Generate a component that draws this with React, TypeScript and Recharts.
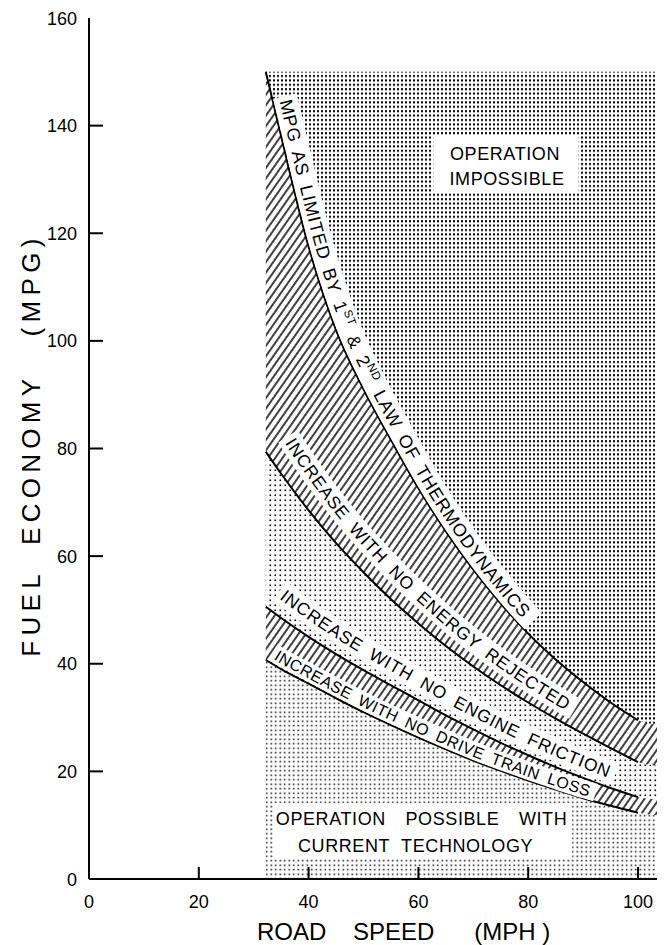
import React from 'react';
import { ComposedChart, Area, Line, XAxis, YAxis, ReferenceArea, Label } from 'recharts';

// ---------- data ----------
const speedMph = [32.2, 35, 40, 45, 50, 55, 60, 65, 70, 75, 80, 85, 90, 95, 100, 104];
const thermoLimitMpg = [150, 138, 117.5, 102, 91, 81.6, 72.6, 64.6, 57.5, 51.2, 45.6, 40.8, 36.6, 32.8, 29.5, 28.6];
const noEnergyRejectedMpg = [79.4, 75.3, 68.5, 62.4, 57, 52, 47.5, 43.3, 39.5, 36, 32.8, 29.8, 27, 24.3, 21.7, 21];
const noEngineFrictionMpg = [50.6, 48.5, 45, 41.8, 38.8, 36, 33.2, 30.4, 27.8, 25.3, 23, 20.8, 18.8, 16.9, 15.2, 14.8];
const noDriveTrainLossMpg = [40.7, 39, 36.3, 33.6, 31, 28.6, 26.3, 24.1, 22, 20.1, 18.3, 16.6, 15, 13.6, 12.3, 11.8];
const impossibleCeilingMpg = 150;
const lineEndSpeed = 100;

const xTicks = [0, 20, 40, 60, 80, 100];
const xInnerTicks = [20, 40, 60, 80, 100];
const yTicks = [0, 20, 40, 60, 80, 100, 120, 140, 160];
const yInnerTicks = [20, 40, 60, 80, 100, 120, 140];

const xAxisTitle = 'ROAD    SPEED      (MPH )';
const yAxisTitle = 'FUEL  ECONOMY   (MPG)';

const rows = speedMph.map((s, i) => ({
  speed: s,
  impossible: [thermoLimitMpg[i], impossibleCeilingMpg],
  band1: [noEnergyRejectedMpg[i], thermoLimitMpg[i]],
  band2: [noEngineFrictionMpg[i], noEnergyRejectedMpg[i]],
  band3: [noDriveTrainLossMpg[i], noEngineFrictionMpg[i]],
  possible: [0, noDriveTrainLossMpg[i]],
  tA: thermoLimitMpg[i],
  tB: noEnergyRejectedMpg[i],
  tC: noEngineFrictionMpg[i],
  tD: noDriveTrainLossMpg[i],
  lA: s <= lineEndSpeed ? thermoLimitMpg[i] : null,
  lB: s <= lineEndSpeed ? noEnergyRejectedMpg[i] : null,
  lC: s <= lineEndSpeed ? noEngineFrictionMpg[i] : null,
  lD: s <= lineEndSpeed ? noDriveTrainLossMpg[i] : null,
}));

const FONT = '"Liberation Sans", Arial, sans-serif';

// ---------- text along curves ----------
type Pt = { x: number; y: number };
type Seg = { t: string; sup?: boolean };
type CurveCfg = {
  id: string; segs: Seg[]; d0: number; d1: number; start: number;
  fs: number; ls: number; ws: number; strip: number;
};

let measureCtx: CanvasRenderingContext2D | null = null;
function measure(str: string, fs: number): number {
  if (!measureCtx) measureCtx = document.createElement('canvas').getContext('2d');
  if (!measureCtx) return str.length * fs * 0.65;
  measureCtx.font = `${fs}px "Liberation Sans"`;
  return measureCtx.measureText(str).width;
}
function textLen(cfg: CurveCfg): number {
  let L = 0;
  let n = 0;
  let spaces = 0;
  cfg.segs.forEach((s) => {
    L += measure(s.t, s.sup ? cfg.fs * 0.65 : cfg.fs);
    n += s.t.length;
    spaces += (s.t.match(/ /g) || []).length;
  });
  return L + n * cfg.ls + spaces * cfg.ws;
}

function offsetPts(pts: Pt[], d0: number, d1: number): Pt[] {
  const n = pts.length;
  return pts.map((p, i) => {
    const a = pts[Math.max(0, i - 1)];
    const b = pts[Math.min(n - 1, i + 1)];
    let tx = b.x - a.x;
    let ty = b.y - a.y;
    const len = Math.hypot(tx, ty) || 1;
    tx /= len; ty /= len;
    const d = d0 + (d1 - d0) * (i / (n - 1));
    return { x: p.x + ty * d, y: p.y - tx * d };
  });
}
function smooth(q: Pt[]): string {
  let s = `M${q[0].x},${q[0].y}`;
  for (let i = 0; i < q.length - 1; i++) {
    const p0 = q[Math.max(0, i - 1)];
    const p1 = q[i];
    const p2 = q[i + 1];
    const p3 = q[Math.min(q.length - 1, i + 2)];
    const c1 = { x: p1.x + (p2.x - p0.x) / 6, y: p1.y + (p2.y - p0.y) / 6 };
    const c2 = { x: p2.x - (p3.x - p1.x) / 6, y: p2.y - (p3.y - p1.y) / 6 };
    s += ` C${c1.x},${c1.y} ${c2.x},${c2.y} ${p2.x},${p2.y}`;
  }
  return s;
}

function CurveText({ cfg, pts }: { cfg: CurveCfg; pts: Pt[] }) {
  if (pts.length < 2) return null;
  const center = smooth(offsetPts(pts, cfg.d0, cfg.d1));
  const capHalf = cfg.fs * 0.36;
  const base = smooth(offsetPts(pts, cfg.d0 - capHalf, cfg.d1 - capHalf));
  const L = textLen(cfg);
  const baseId = `${cfg.id}-base`;
  const supDy = cfg.fs * 0.4;
  return (
    <g>
      <path d={base} id={baseId} fill="none" stroke="none" />
      <path
        d={center}
        fill="none"
        stroke="#fff"
        strokeWidth={cfg.strip}
        strokeDasharray={`0 ${Math.max(0, cfg.start - 4)} ${L + 8} 100000`}
      />
      <text fontFamily={FONT} fontSize={cfg.fs} letterSpacing={cfg.ls} wordSpacing={cfg.ws} fill="#000">
        <textPath href={`#${baseId}`} startOffset={cfg.start}>
          {cfg.segs.map((s, k) =>
            s.sup ? (
              <tspan key={k} dy={-supDy} fontSize={cfg.fs * 0.65}>{s.t}</tspan>
            ) : (
              <tspan key={k} dy={k > 0 && cfg.segs[k - 1].sup ? supDy : 0}>{s.t}</tspan>
            )
          )}
        </textPath>
      </text>
    </g>
  );
}

const stores: Record<string, Pt[]> = {};
function makeCurveText(cfg: CurveCfg) {
  return (props: any) => {
    const idx: number = props.index;
    let pts: Pt[] | null = null;
    if (Array.isArray(props.points) && props.points.length > 1) {
      if (idx !== 0) return <g key={`${cfg.id}-e${idx}`} />;
      pts = props.points
        .filter((p: any) => p && Number.isFinite(p.x) && Number.isFinite(p.y))
        .map((p: any) => ({ x: p.x, y: p.y }));
    } else {
      const st = stores[cfg.id] || (stores[cfg.id] = []);
      st[idx] = { x: props.cx, y: props.cy };
      if (idx !== rows.length - 1) return <g key={`${cfg.id}-e${idx}`} />;
      pts = st.filter((p) => p && Number.isFinite(p.x) && Number.isFinite(p.y));
    }
    return <CurveText key={`${cfg.id}-t`} cfg={cfg} pts={pts || []} />;
  };
}

const textA: CurveCfg = {
  id: 'ta',
  segs: [
    { t: 'MPG AS LIMITED BY 1' }, { t: 'ST', sup: true }, { t: ' & 2' }, { t: 'ND', sup: true },
    { t: ' LAW OF THERMODYNAMICS' },
  ],
  d0: 13, d1: 12, start: 32, fs: 18, ls: 0.8, ws: 4, strip: 24,
};
const textB: CurveCfg = {
  id: 'tb', segs: [{ t: 'INCREASE WITH NO ENERGY REJECTED' }],
  d0: 27, d1: 15, start: 4, fs: 17.5, ls: 0.8, ws: 5, strip: 23,
};
const textC: CurveCfg = {
  id: 'tc', segs: [{ t: 'INCREASE WITH NO ENGINE FRICTION' }],
  d0: 21, d1: 14, start: 6, fs: 17.5, ls: 0.8, ws: 5, strip: 23,
};
const textD: CurveCfg = {
  id: 'td', segs: [{ t: 'INCREASE WITH NO DRIVE TRAIN LOSS' }],
  d0: 10.5, d1: 8.5, start: 6, fs: 16, ls: 0.5, ws: 4, strip: 18,
};

// ---------- ticks ----------
const LeftTick = (p: any) => {
  const { x, y, payload } = p;
  const ax = x + 12;
  const v = payload.value;
  return (
    <g>
      {v > 0 && v < 160 && <line x1={ax} x2={ax + 14} y1={y} y2={y} stroke="#000" strokeWidth={2} />}
      <text x={x} y={y} dy={6.5} textAnchor="end" fontSize={18} fontFamily={FONT} fill="#000">{v}</text>
    </g>
  );
};
const BottomTick = (p: any) => {
  const { x, y, payload } = p;
  const ay = y - 16;
  const v = payload.value;
  return (
    <g>
      {v > 0 && <line x1={x} x2={x} y1={ay} y2={ay - 12} stroke="#000" strokeWidth={2} />}
      <text x={x} y={y} dy={13} textAnchor="middle" fontSize={18} fontFamily={FONT} fill="#000">{v}</text>
    </g>
  );
};
const TopTick = (p: any) => <line x1={p.x} x2={p.x} y1={p.y} y2={p.y + 12} stroke="#000" strokeWidth={2} />;
const RightTick = (p: any) => <line x1={p.x} x2={p.x - 12} y1={p.y} y2={p.y} stroke="#000" strokeWidth={2} />;

// ---------- boxed labels ----------
type BoxLine = { t: string; dx: number; dy: number; ws: number };
const boxLabel = (lines: BoxLine[]) => (props: any) => {
  const vb = props.viewBox || {};
  const cx = vb.x + vb.width / 2;
  const cy = vb.y + vb.height / 2;
  return (
    <g>
      <rect x={vb.x} y={vb.y} width={vb.width} height={vb.height} fill="#fff" />
      {lines.map((l, i) => (
        <text key={i} x={cx + l.dx} y={cy + l.dy} textAnchor="middle" fontFamily={FONT} fontSize={18}
          letterSpacing={0.6} wordSpacing={l.ws} fill="#000">{l.t}</text>
      ))}
    </g>
  );
};

const XTitle = (props: any) => {
  const vb = props.viewBox || {};
  return (
    <text x={vb.x + vb.width * 0.551} y={vb.y + 61} textAnchor="middle" fontFamily={FONT} fontSize={24}
      style={{ whiteSpace: 'pre' }} fill="#000">{xAxisTitle}</text>
  );
};
const YTitle = (props: any) => {
  const vb = props.viewBox || {};
  const x = vb.x + 11;
  const y = vb.y + vb.height * 0.496;
  return (
    <text x={x} y={y} transform={`rotate(-90 ${x} ${y})`} textAnchor="middle" fontFamily={FONT} fontSize={26}
      letterSpacing={5.3} style={{ whiteSpace: 'pre' }} fill="#000">{yAxisTitle}</text>
  );
};

export default function App() {
  return (
    <ComposedChart width={657} height={937} data={rows} margin={{ top: 10, right: 5, bottom: 16, left: 21 }}>
      <defs>
        <pattern id="dotsDense" width="4" height="4.4" patternUnits="userSpaceOnUse">
          <rect x="1" y="1" width="2" height="2" fill="#000" />
        </pattern>
        <pattern id="dotsMid" width="5" height="5" patternUnits="userSpaceOnUse">
          <rect x="1.5" y="1.5" width="1.6" height="1.6" fill="#000" />
        </pattern>
        <pattern id="dotsLow" width="4.5" height="4.5" patternUnits="userSpaceOnUse">
          <rect x="1.5" y="1.5" width="1.5" height="1.5" fill="#000" />
        </pattern>
        <pattern id="hatch" width="6" height="6" patternUnits="userSpaceOnUse" patternTransform="rotate(35)">
          <line x1="3" y1="0" x2="3" y2="6" stroke="#000" strokeWidth="1.5" />
        </pattern>
      </defs>

      <XAxis xAxisId="b" dataKey="speed" type="number" domain={[0, 104]} ticks={xTicks} interval={0}
        tickLine={false} tickSize={0} tickMargin={16} tick={BottomTick} height={50}
        axisLine={{ stroke: '#000', strokeWidth: 2 }}>
        <Label content={XTitle} />
      </XAxis>
      <XAxis xAxisId="t" orientation="top" dataKey="speed" type="number" domain={[0, 104]} ticks={xInnerTicks}
        interval={0} tickLine={false} tickSize={0} tickMargin={0} tick={TopTick} height={0}
        axisLine={{ stroke: '#000', strokeWidth: 2 }} />
      <YAxis yAxisId="l" type="number" domain={[0, 160]} ticks={yTicks} interval={0} width={60}
        tickLine={false} tickSize={0} tickMargin={12} tick={LeftTick}
        axisLine={{ stroke: '#000', strokeWidth: 2 }}>
        <Label content={YTitle} />
      </YAxis>
      <YAxis yAxisId="r" orientation="right" type="number" domain={[0, 160]} ticks={yInnerTicks} interval={0}
        width={0} tickLine={false} tickSize={0} tickMargin={0} tick={RightTick}
        axisLine={{ stroke: '#000', strokeWidth: 2 }} />

      <Area xAxisId="b" yAxisId="l" type="monotone" dataKey="impossible" stroke="none" fill="url(#dotsDense)"
        fillOpacity={1} isAnimationActive={false} dot={false} activeDot={false} />
      <Area xAxisId="b" yAxisId="l" type="monotone" dataKey="band1" stroke="none" fill="url(#hatch)"
        fillOpacity={1} isAnimationActive={false} dot={false} activeDot={false} />
      <Area xAxisId="b" yAxisId="l" type="monotone" dataKey="band2" stroke="none" fill="url(#dotsMid)"
        fillOpacity={1} isAnimationActive={false} dot={false} activeDot={false} />
      <Area xAxisId="b" yAxisId="l" type="monotone" dataKey="band3" stroke="none" fill="url(#hatch)"
        fillOpacity={1} isAnimationActive={false} dot={false} activeDot={false} />
      <Area xAxisId="b" yAxisId="l" type="monotone" dataKey="possible" stroke="none" fill="url(#dotsLow)"
        fillOpacity={1} isAnimationActive={false} dot={false} activeDot={false} />

      <ReferenceArea xAxisId="b" yAxisId="l" x1={62.7} x2={89.2} y1={127.5} y2={138.3} fill="none" stroke="none"
        ifOverflow="visible"
        label={boxLabel([
          { t: 'OPERATION', dx: -1, dy: -4, ws: 0 },
          { t: 'IMPOSSIBLE', dx: 1, dy: 21, ws: 0 },
        ])} />
      <ReferenceArea xAxisId="b" yAxisId="l" x1={33.5} x2={88} y1={3.9} y2={14.1} fill="none" stroke="none"
        ifOverflow="visible"
        label={boxLabel([
          { t: 'OPERATION POSSIBLE WITH', dx: -1, dy: -5.5, ws: 14 },
          { t: 'CURRENT TECHNOLOGY', dx: -7, dy: 21.5, ws: 6 },
        ])} />

      <Line xAxisId="t" yAxisId="r" type="monotone" dataKey="tA" stroke="none" isAnimationActive={false}
        dot={makeCurveText(textA)} activeDot={false} legendType="none" />
      <Line xAxisId="t" yAxisId="r" type="monotone" dataKey="tB" stroke="none" isAnimationActive={false}
        dot={makeCurveText(textB)} activeDot={false} legendType="none" />
      <Line xAxisId="t" yAxisId="r" type="monotone" dataKey="tC" stroke="none" isAnimationActive={false}
        dot={makeCurveText(textC)} activeDot={false} legendType="none" />
      <Line xAxisId="t" yAxisId="r" type="monotone" dataKey="tD" stroke="none" isAnimationActive={false}
        dot={makeCurveText(textD)} activeDot={false} legendType="none" />

      <Line xAxisId="t" yAxisId="r" type="monotone" dataKey="lA" stroke="#000" strokeWidth={2} dot={false}
        activeDot={false} isAnimationActive={false} connectNulls={false} />
      <Line xAxisId="t" yAxisId="r" type="monotone" dataKey="lB" stroke="#000" strokeWidth={2} dot={false}
        activeDot={false} isAnimationActive={false} connectNulls={false} />
      <Line xAxisId="t" yAxisId="r" type="monotone" dataKey="lC" stroke="#000" strokeWidth={2} dot={false}
        activeDot={false} isAnimationActive={false} connectNulls={false} />
      <Line xAxisId="t" yAxisId="r" type="monotone" dataKey="lD" stroke="#000" strokeWidth={2} dot={false}
        activeDot={false} isAnimationActive={false} connectNulls={false} />
    </ComposedChart>
  );
}
